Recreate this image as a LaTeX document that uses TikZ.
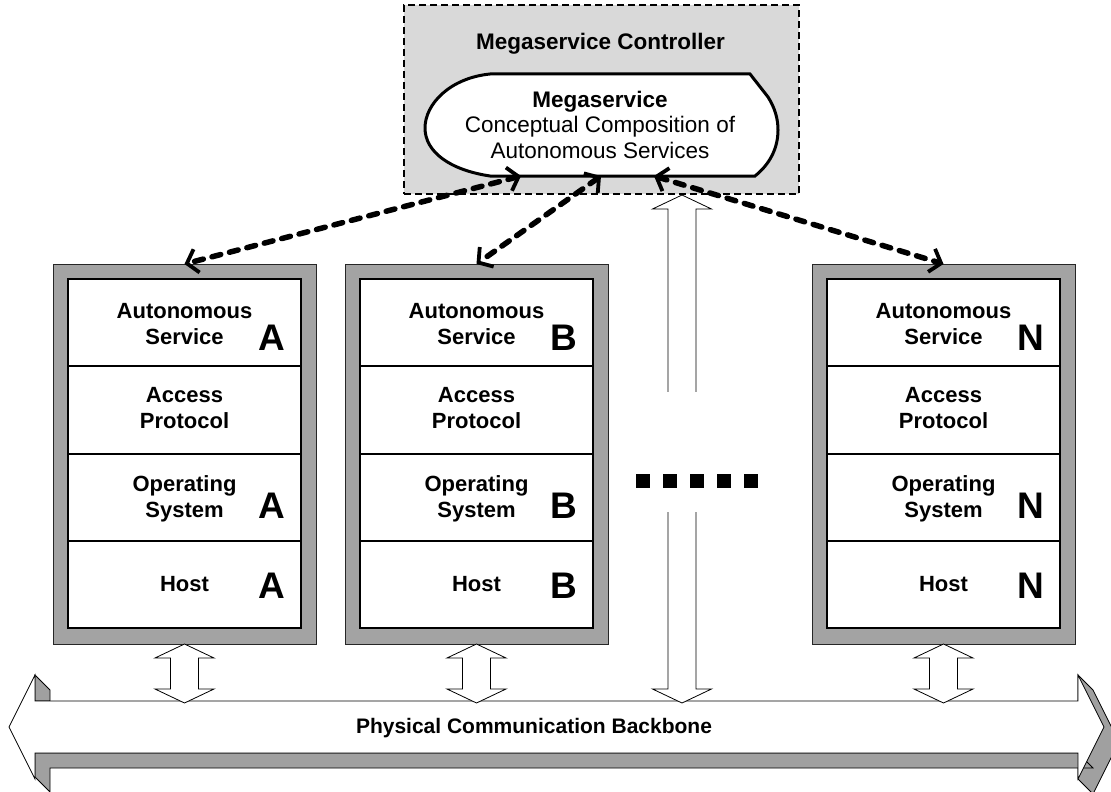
\documentclass[tikz,border=0pt]{standalone}
\usepackage{fontspec}
\setmainfont{Liberation Sans}
\usetikzlibrary{arrows.meta,calc}
\definecolor{ctrlgray}{RGB}{217,217,217}
\definecolor{framegray}{RGB}{163,163,163}
\definecolor{bbgray}{RGB}{160,160,160}
\newcommand\hollowV[2]{%
  \draw[hollow] (#1) -- ++(29.5,14) -- ++(-15.5,0) -- ($(#1 |- #2)+(14,-14)$) -- ++(15.5,0) -- (#1 |- #2)
    -- ++(-29.5,-14) -- ++(15.5,0) -- ($(#1)+(-14,14)$) -- ++(-15.5,0) -- cycle;}
\newcommand\stackbox[3]{% #1 name, #2 left x, #3 letter
  \node[frame, minimum width=263, minimum height=380, anchor=north west] (#1) at (#2,264) {};
  \node[layer, minimum width=233, minimum height=349, anchor=north west] (#1in) at ($(#1.north west)+(15,15)$) {};
  \foreach \d in {87,175,262}
    \draw[line width=2] ($(#1in.north west)+(0,\d)$) -- ($(#1in.north east)+(0,\d)$);
  \node[lbl] (#1as) at ($(#1in.north)+(0,45)$) {Autonomous\\Service};
  \node[lbl] (#1ap) at ($(#1in.north)+(0,129.5)$) {Access\\Protocol};
  \node[lbl] (#1os) at ($(#1in.north)+(0,220)$) {Operating\\System};
  \node[lbl] (#1ho) at ($(#1in.north)+(0,305)$) {Host};
  \node[big] (#1l1) at ($(#1in.north east)+(-29,71)$) {#3};
  \node[big] (#1l2) at ($(#1in.north east)+(-29,239)$) {#3};
  \node[big] (#1l3) at ($(#1in.north east)+(-29,319)$) {#3};
}
\begin{document}
\begin{tikzpicture}[x=1pt,y=-1pt,
  lbl/.style={font=\fontsize{22}{26}\selectfont\bfseries, align=center, inner sep=0},
  big/.style={font=\fontsize{37}{40}\selectfont\bfseries, inner sep=0, anchor=base},
  frame/.style={fill=framegray, draw=black!85, line width=1, inner sep=0, outer sep=0},
  layer/.style={draw=black, line width=2, fill=white, inner sep=0, outer sep=0},
  hollow/.style={draw=black, line width=0.8, fill=white, line join=miter},
  face/.style={draw=black, line width=0.8, fill=bbgray, line join=miter},
  link/.style={line width=5.5, dash pattern=on 9 off 9, line cap=round,
    arrows={Straight Barb[length=10pt,width=24pt,line width=3.8pt]-Straight Barb[length=10pt,width=24pt,line width=3.8pt]}}
]
\useasboundingbox (0,0) rectangle (1111,792);
\clip (0,0) rectangle (1111,792);
\fill[white] (0,0) rectangle (1111,792);

% controller
\node[draw, fill=ctrlgray, line width=1.3, dash pattern=on 7 off 4, minimum width=395, minimum height=189,
  inner sep=0, outer sep=0, anchor=north west] (ctrl) at (404,5) {};
\node[font=\fontsize{22.5}{26}\selectfont\bfseries, inner sep=0, anchor=base] (ctrltitle) at (600.5,50) {Megaservice Controller};
\draw[line width=3, fill=white] (490,74) -- (750,74) -- (768,97) .. controls (775,108) and (778,119) .. (778,130)
  .. controls (778,148) and (770,164) .. (755,176) -- (490,176) .. controls (450,170) and (425,152) .. (425,128)
  .. controls (425,104) and (450,78) .. (490,74) -- cycle;
\node[font=\fontsize{22.5}{25.5}\selectfont, align=center, inner sep=0] (ms) at (600,124.5)
  {{\bfseries Megaservice}\\Conceptual Composition of\\Autonomous Services};
\coordinate (e1) at (521,176);
\coordinate (e2) at (601,176);
\coordinate (e3) at (654,176);

% stacks
\stackbox{A}{53}{A}
\stackbox{B}{345}{B}
\stackbox{N}{812}{N}

% backbone
\coordinate (bbtop) at (0,703);
\draw[face] (1078,675) -- (1093,690) -- (1119,742) -- (1093,794) -- (1078,779) -- cycle;
\draw[face] (35,675) -- (50,690) -- (50,701) -- (35,701) -- cycle;
\draw[face] (35,753) -- (1078,753) -- (1093,768) -- (50,768) -- (50,792) -- (35,777) -- cycle;
\draw[hollow] (35,701) -- (1078,701) -- (1078,675) -- (1104,727) -- (1078,779) -- (1078,753) -- (35,753)
  -- (35,779) -- (9,727) -- (35,675) -- cycle;
\node[font=\fontsize{21}{24}\selectfont\bfseries, inner sep=0] (bbtext) at (534,727.7) {Physical Communication Backbone};

% hollow double arrows
\coordinate (vtop) at ($(ctrl.south)+(80.5,1)$);
\hollowV{vtop}{bbtop}
\hollowV{A.south}{bbtop}
\hollowV{B.south}{bbtop}
\hollowV{N.south}{bbtop}

% dots on a white gap
\fill[white] (625,392) rectangle (770,512);
\foreach \x in {636,663,690,717,744}
  \fill[black] (\x,474) rectangle ++(14,14);

% dashed links
\draw[link] (e1) -- (A.north);
\draw[link] (e2) -- (B.north);
\draw[link] (e3) -- (N.north);
\end{tikzpicture}
\end{document}
